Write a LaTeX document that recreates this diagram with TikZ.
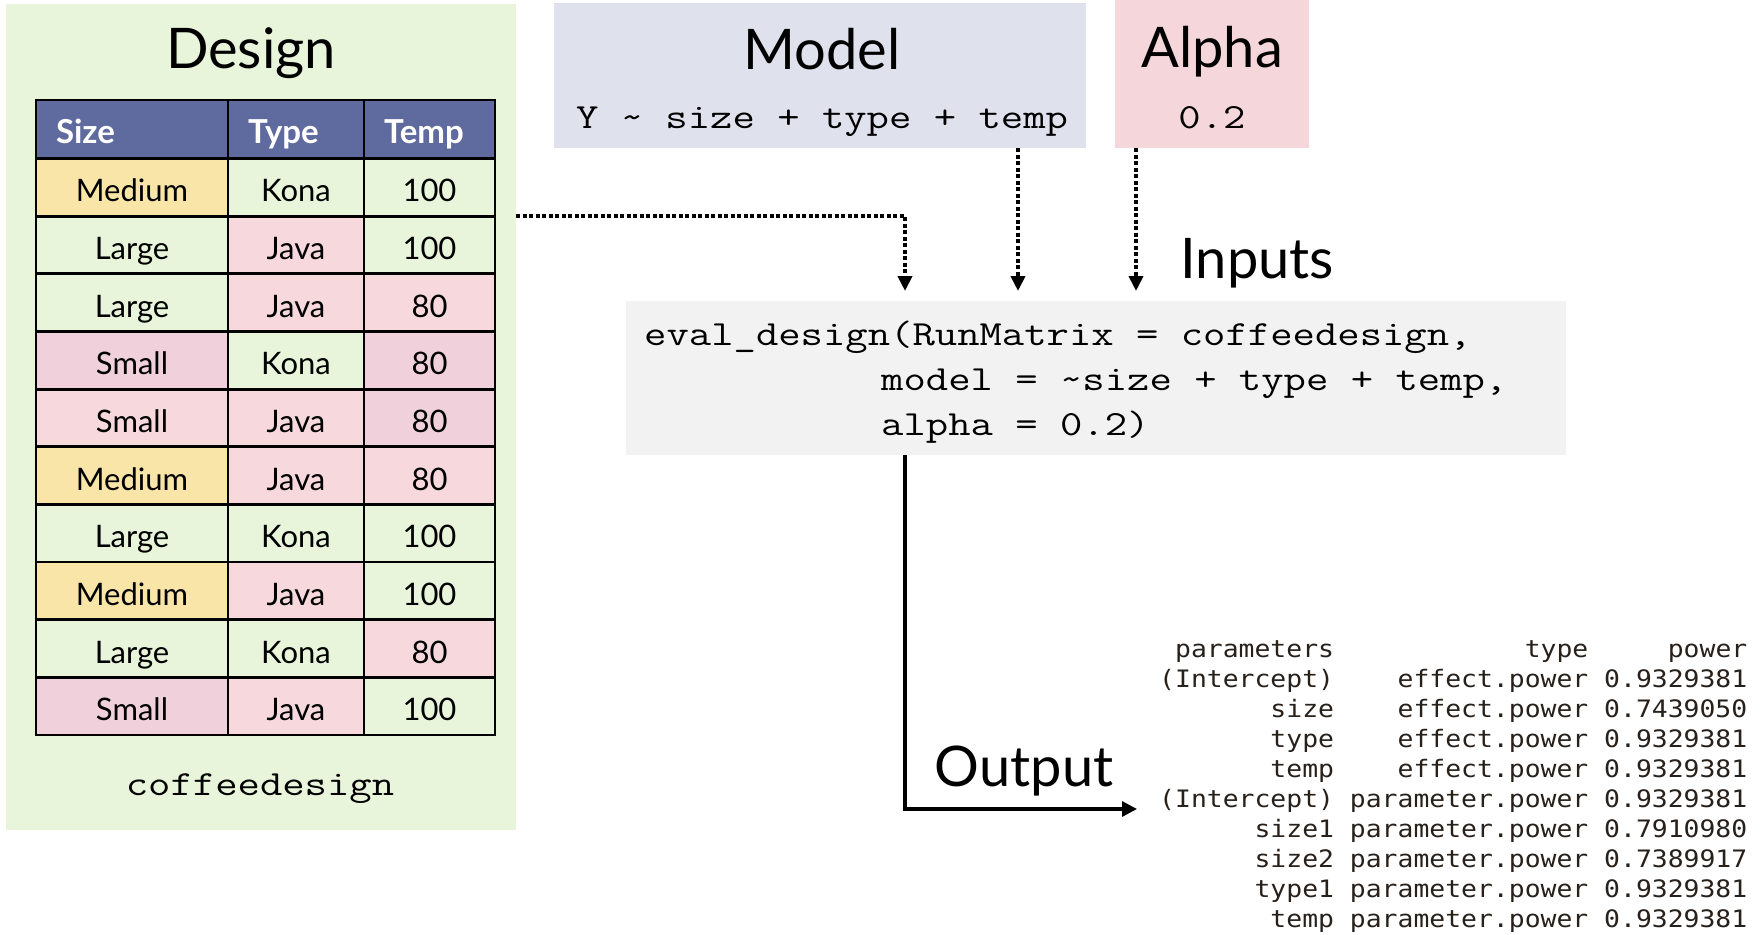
\documentclass[tikz,border=0pt]{standalone}
\usepackage{fontspec}
\setmainfont{Lato}
\newfontfamily\codefont[FakeStretch=1.23]{Latin Modern Mono}
\newfontfamily\rfont[FakeStretch=1.1]{DejaVu Sans Mono}
\usetikzlibrary{arrows.meta}

\definecolor{designbg}{RGB}{232,245,218}
\definecolor{headbg}{RGB}{95,106,158}
\definecolor{medium}{RGB}{250,229,168}
\definecolor{lg}{RGB}{232,245,218}
\definecolor{pinkA}{RGB}{240,208,218}
\definecolor{pinkB}{RGB}{246,216,221}
\definecolor{modelbg}{RGB}{223,225,237}
\definecolor{alphabg}{RGB}{245,214,218}
\definecolor{codebg}{RGB}{242,242,242}
\definecolor{rtext}{RGB}{40,32,26}

\begin{document}
\begin{tikzpicture}[x=1pt,y=-1pt,
  panel/.style={inner sep=0pt, outer sep=0pt, anchor=north west},
  cell/.style={draw=black, line width=2.8pt, inner sep=0pt, outer sep=0pt,
    anchor=north west, minimum height=57.65pt, text height=29pt, text depth=0pt,
    font=\fontsize{31}{36}\selectfont},
  headcell/.style={cell, fill=headbg, text=white, minimum height=58.5pt,
    font=\fontsize{33}{36}\selectfont\bfseries, align=left, inner xsep=20pt},
  title/.style={font=\fontsize{56}{60}\selectfont, anchor=base},
  mono/.style={font=\codefont\fontsize{35.3}{45}\selectfont},
  dotarrow/.style={line width=4pt, dash pattern=on 4pt off 2.5pt,
    -{Triangle[length=15pt,width=14pt]}},
  outarrow/.style={line width=3.2pt, -{Triangle[length=15pt,width=15pt]}},
]
\useasboundingbox (0,0) rectangle (1763,934);

% background panels
\node[panel, fill=designbg, minimum width=510pt, minimum height=826pt] (design) at (6,4) {};
\node[panel, fill=modelbg, minimum width=532pt, minimum height=145pt] (model) at (554,3) {};
\node[panel, fill=alphabg, minimum width=194pt, minimum height=148pt] (alpha) at (1115,0) {};
\node[panel, fill=codebg, minimum width=940pt, minimum height=154pt] (code) at (626,301) {};

% design table
\node[title] (designtitle) at (251,69) {Design};
\node[headcell, text width=152pt] (hsize) at (36,100) {Size};
\node[headcell, text width=96pt] (htype) at (228,100) {Type};
\node[headcell, text width=91pt] (htemp) at (364,100) {Temp};
\foreach \r/\ta/\fa/\tb/\fb/\tc/\fc in {
  1/Medium/medium/Kona/lg/100/lg,
  2/Large/lg/Java/pinkB/100/lg,
  3/Large/lg/Java/pinkB/80/pinkB,
  4/Small/pinkA/Kona/lg/80/pinkA,
  5/Small/pinkB/Java/pinkB/80/pinkA,
  6/Medium/medium/Java/pinkB/80/pinkB,
  7/Large/lg/Kona/lg/100/lg,
  8/Medium/medium/Java/pinkB/100/lg,
  9/Large/lg/Kona/lg/80/pinkB,
  10/Small/pinkA/Java/pinkB/100/lg}{
  \pgfmathsetmacro\yy{158.5+(\r-1)*57.65}
  \node[cell, fill=\fa, minimum width=192pt] (s\r) at (36,\yy) {\ta};
  \node[cell, fill=\fb, minimum width=136pt] (t\r) at (228,\yy) {\tb};
  \node[cell, fill=\fc, minimum width=131pt] (p\r) at (364,\yy) {\tc};
}
\node[mono, anchor=base] (designname) at (260,795) {coffeedesign};

% model and alpha
\node[title] (modeltitle) at (822,70) {Model};
\node[mono, anchor=base] (modelformula) at (822,128) {Y \textasciitilde{} size + type + temp};
\node[title] (alphatitle) at (1212,67) {Alpha};
\node[mono, anchor=base] (alphavalue) at (1212,128) {0.2};
\node[title, anchor=base west] (inputs) at (1177,278) {Inputs};

% function call
\node[mono, anchor=base west, inner sep=0pt] (codetext) at (644,345)
  {\begin{tabular}[t]{@{}l@{}}eval\_design(RunMatrix = coffeedesign,\\
   \hspace*{237pt}model = \textasciitilde size + type + temp,\\
   \hspace*{237pt}alpha = 0.2)\end{tabular}};

% result printout
\node[anchor=base west, inner sep=0pt, text=rtext, font=\rfont\fontsize{24}{30}\selectfont]
  (result) at (1159,657)
  {\begin{tabular}[t]{@{}r@{\hphantom{0}}r@{\hphantom{0}}r@{}}
   parameters & type & power\\
   (Intercept) & effect.power & 0.9329381\\
   size & effect.power & 0.7439050\\
   type & effect.power & 0.9329381\\
   temp & effect.power & 0.9329381\\
   (Intercept) & parameter.power & 0.9329381\\
   size1 & parameter.power & 0.7910980\\
   size2 & parameter.power & 0.7389917\\
   type1 & parameter.power & 0.9329381\\
   temp & parameter.power & 0.9329381
   \end{tabular}};
\node[title] (output) at (1024,786) {Output};

% connectors
\coordinate (inA) at (905,291);
\coordinate (inB) at (1018,291);
\coordinate (inC) at (1136,291);
\coordinate (outC) at (1137,809);
\draw[dotarrow] (design.east |- s2.north) -| (inA);
\draw[dotarrow] (model.south -| inB) -- (inB);
\draw[dotarrow] (alpha.south -| inC) -- (inC);
\draw[outarrow] (code.south -| inA) |- (outC);
\end{tikzpicture}
\end{document}
